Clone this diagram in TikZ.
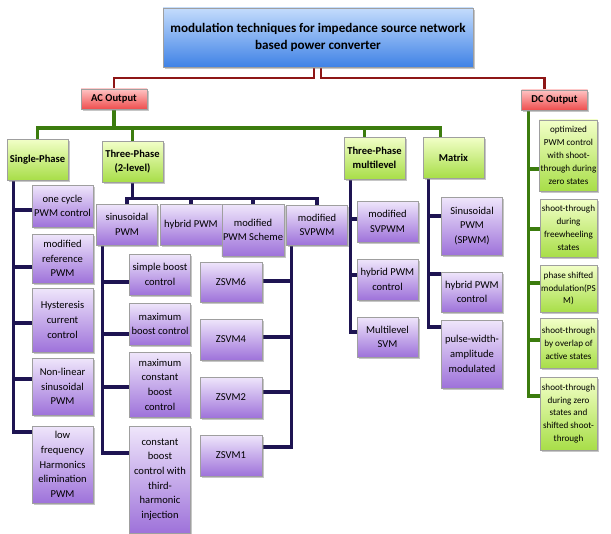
\documentclass[tikz,border=0pt]{standalone}
\usepackage{fontspec}
\setmainfont{Carlito}
\usetikzlibrary{positioning,calc,shadows,backgrounds}
\newcommand\pxu{0.03cm}
\definecolor{titletop}{HTML}{C4DCFC}
\definecolor{titlebot}{HTML}{3F82E6}
\definecolor{outtop}{HTML}{FFC4C4}
\definecolor{outbot}{HTML}{EE4E4E}
\definecolor{grntop}{HTML}{F2FFC8}
\definecolor{grnbot}{HTML}{A8DE48}
\definecolor{purtop}{HTML}{EFE6FB}
\definecolor{purbot}{HTML}{9E72DA}
\definecolor{redline}{HTML}{8E1616}
\definecolor{grnline}{HTML}{3C7C0E}
\definecolor{navline}{HTML}{1E1452}
\tikzset{
  box/.style={draw=gray!75, thin, align=center, inner sep=1pt, text=black,
    drop shadow={shadow xshift=1.3pt, shadow yshift=-1.3pt, opacity=0.45}},
  title/.style={box, top color=titletop, bottom color=titlebot, minimum width=310*\pxu, minimum height=59*\pxu,
    font=\bfseries\fontsize{11.2}{14}\selectfont},
  outbox/.style={box, top color=outtop, bottom color=outbot, minimum width=66*\pxu, minimum height=20*\pxu,
    font=\bfseries\fontsize{9}{11}\selectfont},
  classbox/.style={box, top color=grntop, bottom color=grnbot, minimum width=61*\pxu,
    font=\bfseries\fontsize{9}{12.5}\selectfont},
  method/.style={box, top color=purtop, bottom color=purbot, minimum width=61*\pxu,
    font=\fontsize{9}{12.5}\selectfont},
  dcmethod/.style={box, top color=grntop, bottom color=grnbot, minimum width=57*\pxu,
    font=\fontsize{7.8}{11}\selectfont},
  redlink/.style={draw=redline, line width=2.4pt},
  greenlink/.style={draw=grnline, line width=3pt},
  navylink/.style={draw=navline, line width=2.8pt}
}
\begin{document}
\begin{tikzpicture}[x=0.03cm, y=-0.03cm]
  \useasboundingbox (0,0) rectangle (611,534);

  \node[title] (title) at (318,37.5) {modulation techniques for impedance source network\\based power converter};
  \node[outbox] (ac) at (114,99) {AC Output};
  \node[outbox] (dc) at (554.5,100) {DC Output};

  \node[classbox, minimum height=41*\pxu] (sp) at (37.5,159.5) {Single-Phase};
  \node[classbox, minimum height=41*\pxu] (tp) at (132.5,161.5) {Three-Phase\\(2-level)};
  \node[classbox, minimum height=42*\pxu] (ml) at (374.5,158) {Three-Phase\\multilevel};
  \node[classbox, minimum height=41*\pxu] (mat) at (453.5,157.5) {Matrix};

  % single-phase
  \node[method, minimum height=42*\pxu] (c1) at (62.5,206) {one cycle\\PWM control};
  \node[method, minimum height=49*\pxu] (c2) at (62.5,258.5) {modified\\reference\\PWM};
  \node[method, minimum height=64*\pxu] (c3) at (62.5,320) {Hysteresis\\current\\control};
  \node[method, minimum height=57*\pxu] (c4) at (62.5,386.5) {Non-linear\\sinusoidal\\PWM};
  \node[method, minimum height=77*\pxu] (c5) at (62.5,464.5) {low\\frequency\\Harmonics\\elimination\\PWM};

  % three-phase (2-level)
  \node[method, minimum height=41*\pxu] (sin) at (127,224.5) {sinusoidal\\PWM};
  \node[method, minimum width=62*\pxu, minimum height=41*\pxu] (hyb) at (191,224.5) {hybrid PWM};
  \node[method, minimum height=52*\pxu] (sch) at (253,230) {modified\\PWM Scheme};
  \node[method, minimum height=40*\pxu] (svp) at (317,225) {modified\\SVPWM};

  \node[method, minimum height=41*\pxu] (e1) at (160,274.5) {simple boost\\control};
  \node[method, minimum height=42*\pxu] (e2) at (160,324) {maximum\\boost control};
  \node[method, minimum height=65*\pxu] (e3) at (160,384.5) {maximum\\constant\\boost\\control};
  \node[method, minimum height=107*\pxu] (e4) at (160,479.5) {constant\\boost\\control with\\third-\\harmonic\\injection};

  \node[method, minimum width=62*\pxu, minimum height=40*\pxu] (z6) at (231,282) {ZSVM6};
  \node[method, minimum width=62*\pxu, minimum height=41*\pxu] (z4) at (231,339.5) {ZSVM4};
  \node[method, minimum width=62*\pxu, minimum height=41*\pxu] (z2) at (231,397.5) {ZSVM2};
  \node[method, minimum width=62*\pxu, minimum height=41*\pxu] (z1) at (231,455.5) {ZSVM1};

  % multilevel and matrix
  \node[method, minimum height=41*\pxu] (m1) at (387.5,221.5) {modified\\SVPWM};
  \node[method, minimum height=41*\pxu] (m2) at (387.5,279.5) {hybrid PWM\\control};
  \node[method, minimum height=40*\pxu] (m3) at (387.5,337) {Multilevel\\SVM};

  \node[method, minimum height=58*\pxu] (x1) at (472,226) {Sinusoidal\\PWM\\(SPWM)};
  \node[method, minimum height=40*\pxu] (x2) at (472,292) {hybrid PWM\\control};
  \node[method, minimum height=68*\pxu] (x3) at (472,354) {pulse-width-\\amplitude\\modulated};

  % dc output
  \node[dcmethod, minimum height=71*\pxu] (d1) at (568.5,155.5) {optimized\\PWM control\\with shoot-\\through during\\zero states};
  \node[dcmethod, minimum height=58*\pxu] (d2) at (568.5,228) {shoot-through\\during\\freewheeling\\states};
  \node[dcmethod, minimum height=47*\pxu] (d3) at (568.5,288.5) {phase shifted\\modulation(PS\\M)};
  \node[dcmethod, minimum height=50*\pxu] (d4) at (568.5,343) {shoot-through\\by overlap of\\active states};
  \node[dcmethod, minimum height=73*\pxu] (d5) at (568.5,413.5) {shoot-through\\during zero\\states and\\shifted shoot-\\through};

  % connectors behind the boxes
  \begin{scope}[on background layer]
    \coordinate (rj) at (0,78);
    \coordinate (gj) at (0,128);
    \draw[redlink] ($(title.south)+(-4,0)$) |- (rj -| ac.north) -- (ac.north);
    \draw[redlink] ($(title.south)+(3,0)$) |- ($(rj -| dc.north)+(-10,0)$) -- ($(dc.north)+(-10,0)$);

    \draw[greenlink] (ac.south) -- (ac.south |- gj);
    \draw[greenlink] (sp.north) |- ($(gj -| mat.north)+(-13,0)$) -- ($(mat.north)+(-13,0)$);
    \draw[greenlink] (gj -| tp.north) -- (tp.north);
    \draw[greenlink] ($(gj -| ml.north)+(-10,0)$) -- ($(ml.north)+(-10,0)$);

    \coordinate (dct) at ($(dc.south west)+(7,0)$);
    \foreach \n/\dy in {d1/13.5, d2/1, d3/-5.5, d4/-3, d5/-17.5}
      \draw[greenlink] (dct) |- ([yshift={(0-\dy)*\pxu}]\n.west);

    \coordinate (spt) at ($(sp.south west)+(7,0)$);
    \foreach \n/\dy in {c1/4, c2/8.5, c3/3, c4/-7.5, c5/-32.5}
      \draw[navylink] (spt) |- ([yshift={(0-\dy)*\pxu}]\n.west);

    \coordinate (tj) at ($(tp.south)+(0,16)$);
    \draw[navylink] (tp.south) -- (tj);
    \draw[navylink] (sin.north) |- (tj) -| (svp.north);
    \foreach \n in {hyb,sch}
      \draw[navylink] (tj -| \n.north) -- (\n.north);

    \coordinate (st) at ($(sin.south west)+(6,0)$);
    \foreach \n/\dy in {e1/7.5, e2/10, e3/2.5, e4/-26.5}
      \draw[navylink] (st) |- ([yshift={(0-\dy)*\pxu}]\n.west);

    \coordinate (zt) at ($(svp.south west)+(5,0)$);
    \foreach \n/\dy in {z6/-1, z4/-2.5, z2/-5.5, z1/-8.5}
      \draw[navylink] (zt) |- ([yshift={(0-\dy)*\pxu}]\n.east);

    \coordinate (mlt) at ($(ml.south west)+(7,0)$);
    \foreach \n/\dy in {m1/-2.5, m2/-4.5, m3/-5}
      \draw[navylink] (mlt) |- ([yshift={(0-\dy)*\pxu}]\n.west);

    \coordinate (mt) at ($(mat.south west)+(6,0)$);
    \foreach \n/\dy in {x1/-10, x2/-18, x3/-27}
      \draw[navylink] (mt) |- ([yshift={(0-\dy)*\pxu}]\n.west);
  \end{scope}
\end{tikzpicture}
\end{document}
